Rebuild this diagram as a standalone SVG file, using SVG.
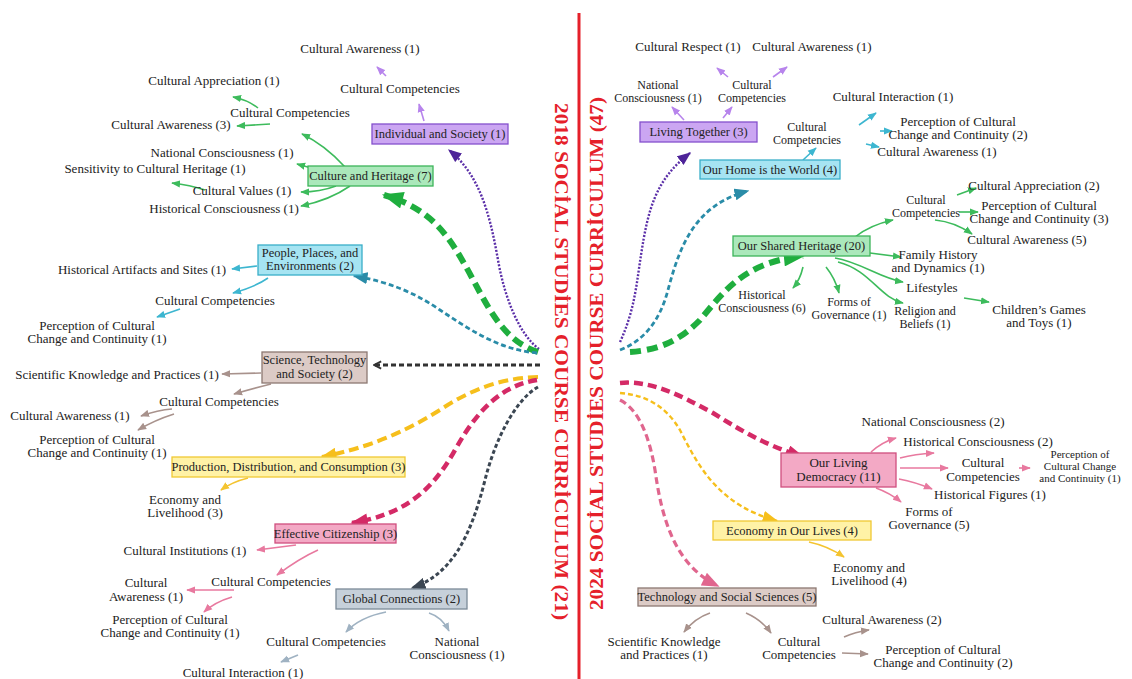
<svg xmlns="http://www.w3.org/2000/svg" width="1132" height="679" viewBox="0 0 1132 679">
<defs>
<style>
text{font-family:"Liberation Serif","DejaVu Serif",serif;font-size:13px;fill:#222;text-anchor:middle}
.bt{font-size:12.5px}
.sm{font-size:12px}
.xs{font-size:11px}
.title{font-size:19px;font-weight:bold;fill:#e5202a;text-anchor:start}
.a{fill:none;stroke-width:1.6}
.pu{stroke:#b784ec}.gr{stroke:#3dbb5c}.cy{stroke:#3db6d0}.br{stroke:#a8928c}.ye{stroke:#f4c430}.pk{stroke:#e8799f}.sl{stroke:#9fb2c2}
.d{fill:none}
.bx-pu{fill:#cba6f2;stroke:#8450cc;stroke-width:1.3}
.bx-gr{fill:#abe8bb;stroke:#3cb45a;stroke-width:1.3}
.bx-cy{fill:#a6e4f2;stroke:#3aaec8;stroke-width:1.3}
.bx-br{fill:#dccbc6;stroke:#8c7872;stroke-width:1.3}
.bx-ye{fill:#fff2a6;stroke:#f0c834;stroke-width:1.3}
.bx-pk{fill:#f3a9c5;stroke:#cf4f7e;stroke-width:1.3}
.bx-sl{fill:#c6d0da;stroke:#7c8a98;stroke-width:1.3}
</style>
<marker id="mpu" viewBox="0 0 10 8" refX="9" refY="4" markerWidth="9" markerHeight="8" markerUnits="userSpaceOnUse" orient="auto"><path d="M0,0L10,4L0,8z" fill="#b784ec"/></marker>
<marker id="mgr" viewBox="0 0 10 8" refX="9" refY="4" markerWidth="9" markerHeight="8" markerUnits="userSpaceOnUse" orient="auto"><path d="M0,0L10,4L0,8z" fill="#3dbb5c"/></marker>
<marker id="mcy" viewBox="0 0 10 8" refX="9" refY="4" markerWidth="9" markerHeight="8" markerUnits="userSpaceOnUse" orient="auto"><path d="M0,0L10,4L0,8z" fill="#3db6d0"/></marker>
<marker id="mbr" viewBox="0 0 10 8" refX="9" refY="4" markerWidth="9" markerHeight="8" markerUnits="userSpaceOnUse" orient="auto"><path d="M0,0L10,4L0,8z" fill="#a8928c"/></marker>
<marker id="mye" viewBox="0 0 10 8" refX="9" refY="4" markerWidth="9" markerHeight="8" markerUnits="userSpaceOnUse" orient="auto"><path d="M0,0L10,4L0,8z" fill="#f4c430"/></marker>
<marker id="mpk" viewBox="0 0 10 8" refX="9" refY="4" markerWidth="9" markerHeight="8" markerUnits="userSpaceOnUse" orient="auto"><path d="M0,0L10,4L0,8z" fill="#e8799f"/></marker>
<marker id="msl" viewBox="0 0 10 8" refX="9" refY="4" markerWidth="9" markerHeight="8" markerUnits="userSpaceOnUse" orient="auto"><path d="M0,0L10,4L0,8z" fill="#9fb2c2"/></marker>
<marker id="Mpu" viewBox="0 0 10 8" refX="9" refY="4" markerWidth="14" markerHeight="11" markerUnits="userSpaceOnUse" orient="auto"><path d="M0,0L10,4L0,8z" fill="#4e2499"/></marker>
<marker id="Mgr" viewBox="0 0 10 8" refX="9" refY="4" markerWidth="22" markerHeight="17" markerUnits="userSpaceOnUse" orient="auto"><path d="M0,0L10,4L0,8z" fill="#1fae3e"/></marker>
<marker id="Mcy" viewBox="0 0 10 8" refX="9" refY="4" markerWidth="15" markerHeight="12" markerUnits="userSpaceOnUse" orient="auto"><path d="M0,0L10,4L0,8z" fill="#2a8ca8"/></marker>
<marker id="Mk" viewBox="0 0 10 10" refX="9" refY="5" markerWidth="9" markerHeight="10" markerUnits="userSpaceOnUse" orient="auto"><path d="M1,1L9,5L1,9" fill="none" stroke="#333" stroke-width="2"/></marker>
<marker id="Mye" viewBox="0 0 10 8" refX="9" refY="4" markerWidth="16" markerHeight="13" markerUnits="userSpaceOnUse" orient="auto"><path d="M0,0L10,4L0,8z" fill="#f6bf1c"/></marker>
<marker id="Mpk" viewBox="0 0 10 8" refX="9" refY="4" markerWidth="18" markerHeight="14" markerUnits="userSpaceOnUse" orient="auto"><path d="M0,0L10,4L0,8z" fill="#d42a66"/></marker>
<marker id="Msl" viewBox="0 0 10 8" refX="9" refY="4" markerWidth="15" markerHeight="12" markerUnits="userSpaceOnUse" orient="auto"><path d="M0,0L10,4L0,8z" fill="#3b4652"/></marker>
<marker id="Mlp" viewBox="0 0 10 8" refX="9" refY="4" markerWidth="18" markerHeight="14" markerUnits="userSpaceOnUse" orient="auto"><path d="M0,0L10,4L0,8z" fill="#e0668e"/></marker>
</defs>
<rect width="1132" height="679" fill="#fff"/>

<g id="divider">
<line x1="579" y1="13" x2="579" y2="679" stroke="#e5202a" stroke-width="3"/>
<text class="title" transform="translate(555,103) rotate(90)" textLength="517" lengthAdjust="spacingAndGlyphs">2018 SOCİAL STUDİES COURSE CURRİCULUM (21)</text>
<text class="title" transform="translate(603,610) rotate(-90)" textLength="513" lengthAdjust="spacingAndGlyphs">2024 SOCİAL STUDİES COURSE CURRİCULUM (47)</text>
</g>

<g id="connectors">
<path class="d" d="M539,349 C520,335 505,300 498,260 C490,215 480,175 449,150" stroke="#5b2fa8" stroke-width="2.4" stroke-dasharray="2 1.6" marker-end="url(#Mpu)"/>
<path class="d" d="M538,352 C500,340 485,300 465,265 C448,235 430,208 384,195" stroke="#1fae3e" stroke-width="6" stroke-dasharray="11 6" marker-end="url(#Mgr)"/>
<path class="d" d="M537,353 C500,350 470,330 440,310 C415,293 390,282 354,276" stroke="#2a8ca8" stroke-width="2.8" stroke-dasharray="5 3" marker-end="url(#Mcy)"/>
<path class="d" d="M540,365 L374,365" stroke="#333" stroke-width="3" stroke-dasharray="5 3" marker-end="url(#Mk)"/>
<path class="d" d="M538,377 C500,378 470,390 440,410 C400,435 365,448 322,457" stroke="#f6bf1c" stroke-width="4" stroke-dasharray="10 5" marker-end="url(#Mye)"/>
<path class="d" d="M537,380 C505,385 480,405 455,450 C430,495 400,515 352,523" stroke="#d42a66" stroke-width="4.5" stroke-dasharray="9 5" marker-end="url(#Mpk)"/>
<path class="d" d="M538,387 C515,400 495,440 485,480 C470,540 450,575 412,588" stroke="#3b4652" stroke-width="3" stroke-dasharray="4 2.5" marker-end="url(#Msl)"/>
<path class="d" d="M620,342 C635,310 637,280 641,255 C648,210 655,180 690,153" stroke="#5b2fa8" stroke-width="2.4" stroke-dasharray="2 1.6" marker-end="url(#Mpu)"/>
<path class="d" d="M620,350 C645,340 660,320 668,290 C680,245 695,205 748,191" stroke="#2a8ca8" stroke-width="2.8" stroke-dasharray="5 3" marker-end="url(#Mcy)"/>
<path class="d" d="M630,352 C660,350 680,340 700,320 C725,290 745,262 803,256" stroke="#1fae3e" stroke-width="6" stroke-dasharray="11 6" marker-end="url(#Mgr)"/>
<path class="d" d="M620,383 C650,380 680,395 713,413 C740,430 765,445 803,457" stroke="#d42a66" stroke-width="4.5" stroke-dasharray="9 5" marker-end="url(#Mpk)"/>
<path class="d" d="M620,393 C645,395 665,405 680,430 C700,470 720,505 777,521" stroke="#f6bf1c" stroke-width="2.4" stroke-dasharray="5 3" marker-end="url(#Mye)"/>
<path class="d" d="M620,400 C640,410 650,440 655,470 C662,520 675,565 718,586" stroke="#e0668e" stroke-width="3.2" stroke-dasharray="7 4" marker-end="url(#Mlp)"/>

<path class="a pu" d="M386,76 L377,67" marker-end="url(#mpu)"/>
<path class="a pu" d="M424,121 L419,104" marker-end="url(#mpu)"/>
<path class="a gr" d="M258,108 Q248,100 233,97" marker-end="url(#mgr)"/>
<path class="a gr" d="M270,124 L237,126" marker-end="url(#mgr)"/>
<path class="a gr" d="M345,167 Q325,145 302,134" marker-end="url(#mgr)"/>
<path class="a gr" d="M322,171 L297,164" marker-end="url(#mgr)"/>
<path class="a gr" d="M205,190 Q190,185 172,183" marker-end="url(#mgr)"/>
<path class="a gr" d="M336,186 Q320,192 301,192" marker-end="url(#mgr)"/>
<path class="a gr" d="M350,186 Q330,200 301,206" marker-end="url(#mgr)"/>
<path class="a cy" d="M257,266 L232,269" marker-end="url(#mcy)"/>
<path class="a cy" d="M268,278 Q255,287 233,293" marker-end="url(#mcy)"/>
<path class="a cy" d="M180,309 L157,317" marker-end="url(#mcy)"/>
<path class="a br" d="M261,373 L222,374" marker-end="url(#mbr)"/>
<path class="a br" d="M271,384 Q255,388 234,394" marker-end="url(#mbr)"/>
<path class="a br" d="M172,409 Q158,410 141,416" marker-end="url(#mbr)"/>
<path class="a br" d="M174,414 Q155,420 138,430" marker-end="url(#mbr)"/>
<path class="a ye" d="M248,478 Q232,482 221,490" marker-end="url(#mye)"/>
<path class="a pk" d="M296,545 L257,550" marker-end="url(#mpk)"/>
<path class="a pk" d="M318,550 Q300,558 277,575" marker-end="url(#mpk)"/>
<path class="a pk" d="M234,590 L187,590" marker-end="url(#mpk)"/>
<path class="a pk" d="M232,597 Q215,602 204,612" marker-end="url(#mpk)"/>
<path class="a sl" d="M386,612 Q360,617 346,632" marker-end="url(#msl)"/>
<path class="a sl" d="M429,613 Q442,617 449,631" marker-end="url(#msl)"/>
<path class="a sl" d="M298,655 L281,662" marker-end="url(#msl)"/>

<path class="a pu" d="M684,120 L672,107" marker-end="url(#mpu)"/>
<path class="a pu" d="M723,118 L732,107" marker-end="url(#mpu)"/>
<path class="a pu" d="M728,77 L717,68" marker-end="url(#mpu)"/>
<path class="a pu" d="M773,77 L787,67" marker-end="url(#mpu)"/>
<path class="a cy" d="M803,160 L816,148" marker-end="url(#mcy)"/>
<path class="a cy" d="M859,125 L876,113" marker-end="url(#mcy)"/>
<path class="a cy" d="M880,131 L892,131" marker-end="url(#mcy)"/>
<path class="a cy" d="M866,144 L879,147" marker-end="url(#mcy)"/>
<path class="a gr" d="M957,195 L976,188" marker-end="url(#mgr)"/>
<path class="a gr" d="M959,212 L978,212" marker-end="url(#mgr)"/>
<path class="a gr" d="M935,220 Q955,222 972,234" marker-end="url(#mgr)"/>
<path class="a gr" d="M855,237 Q870,225 893,220" marker-end="url(#mgr)"/>
<path class="a gr" d="M870,253 L901,257" marker-end="url(#mgr)"/>
<path class="a gr" d="M835,258 C860,262 880,278 903,282" marker-end="url(#mgr)"/>
<path class="a gr" d="M838,262 C870,270 880,298 903,303" marker-end="url(#mgr)"/>
<path class="a gr" d="M964,298 L989,302" marker-end="url(#mgr)"/>
<path class="a gr" d="M803,267 Q800,280 793,288" marker-end="url(#mgr)"/>
<path class="a gr" d="M826,267 Q835,278 839,293" marker-end="url(#mgr)"/>
<path class="a pk" d="M871,452 Q882,442 896,438" marker-end="url(#mpk)"/>
<path class="a pk" d="M900,458 Q915,454 934,453" marker-end="url(#mpk)"/>
<path class="a pk" d="M900,468 L948,468" marker-end="url(#mpk)"/>
<path class="a pk" d="M1019,468 L1030,468" marker-end="url(#mpk)"/>
<path class="a pk" d="M899,479 Q915,482 932,489" marker-end="url(#mpk)"/>
<path class="a pk" d="M876,488 Q890,493 901,502" marker-end="url(#mpk)"/>
<path class="a ye" d="M809,542 Q828,546 844,557" marker-end="url(#mye)"/>
<path class="a br" d="M710,613 Q695,618 684,632" marker-end="url(#mbr)"/>
<path class="a br" d="M746,613 Q762,620 771,633" marker-end="url(#mbr)"/>
<path class="a br" d="M844,637 Q855,632 869,630" marker-end="url(#mbr)"/>
<path class="a br" d="M842,653 L868,654" marker-end="url(#mbr)"/>
</g>

<g id="individual-society">
<rect class="bx-pu" x="372" y="124" width="136" height="20"/>
<text class="bt" x="440" y="138">Individual and Society (1)</text>
<text x="400" y="93">Cultural Competencies</text>
<text x="360" y="53">Cultural Awareness (1)</text>
</g>
<g id="culture-heritage">
<rect class="bx-gr" x="308" y="166" width="125" height="20"/>
<text class="bt" x="370.5" y="180">Culture and Heritage (7)</text>
<text x="214" y="85">Cultural Appreciation (1)</text>
<text x="290" y="117">Cultural Competencies</text>
<text x="171" y="129">Cultural Awareness (3)</text>
<text x="222" y="157">National Consciousness (1)</text>
<text x="155" y="173">Sensitivity to Cultural Heritage (1)</text>
<text x="242" y="195">Cultural Values (1)</text>
<text x="224" y="213">Historical Consciousness (1)</text>
</g>
<g id="people-places">
<rect class="bx-cy" x="258" y="245" width="104" height="30"/>
<text class="bt" x="310" y="257">People, Places, and</text>
<text class="bt" x="310" y="270">Environments (2)</text>
<text x="142" y="274">Historical Artifacts and Sites (1)</text>
<text x="215" y="305">Cultural Competencies</text>
<text x="97" y="330">Perception of Cultural</text>
<text x="97" y="343">Change and Continuity (1)</text>
</g>
<g id="science-technology">
<rect class="bx-br" x="262" y="352" width="105" height="31"/>
<text class="bt" x="314.5" y="364">Science, Technology</text>
<text class="bt" x="314.5" y="378">and Society (2)</text>
<text x="117" y="379">Scientific Knowledge and Practices (1)</text>
<text x="219" y="406">Cultural Competencies</text>
<text x="70" y="420">Cultural Awareness (1)</text>
<text x="97" y="444">Perception of Cultural</text>
<text x="97" y="457">Change and Continuity (1)</text>
</g>
<g id="production">
<rect class="bx-ye" x="172" y="457" width="233" height="20"/>
<text class="bt" x="288.5" y="471">Production, Distribution, and Consumption (3)</text>
<text x="185" y="504">Economy and</text>
<text x="185" y="517">Livelihood (3)</text>
</g>
<g id="effective-citizenship">
<rect class="bx-pk" x="275" y="524" width="121" height="19"/>
<text class="bt" x="335.5" y="538">Effective Citizenship (3)</text>
<text x="185" y="555">Cultural Institutions (1)</text>
<text x="271" y="586">Cultural Competencies</text>
<text x="146" y="587">Cultural</text>
<text x="146" y="601">Awareness (1)</text>
<text x="170" y="624">Perception of Cultural</text>
<text x="170" y="637">Change and Continuity (1)</text>
</g>
<g id="global-connections">
<rect class="bx-sl" x="336" y="589" width="131" height="20"/>
<text class="bt" x="401.5" y="603">Global Connections (2)</text>
<text x="326" y="646">Cultural Competencies</text>
<text x="457" y="646">National</text>
<text x="457" y="659">Consciousness (1)</text>
<text x="243" y="677">Cultural Interaction (1)</text>
</g>

<g id="living-together">
<rect class="bx-pu" x="640" y="122" width="117" height="20"/>
<text class="bt" x="698.5" y="136">Living Together (3)</text>
<text x="688" y="51">Cultural Respect (1)</text>
<text x="812" y="51">Cultural Awareness (1)</text>
<text class="sm" x="658" y="89">National</text>
<text class="sm" x="658" y="102">Consciousness (1)</text>
<text class="sm" x="752" y="89">Cultural</text>
<text class="sm" x="752" y="102">Competencies</text>
</g>
<g id="our-home">
<rect class="bx-cy" x="700" y="160" width="140" height="19"/>
<text class="bt" x="770" y="174">Our Home is the World (4)</text>
<text class="sm" x="807" y="131">Cultural</text>
<text class="sm" x="807" y="144">Competencies</text>
<text x="893" y="101">Cultural Interaction (1)</text>
<text x="958" y="126">Perception of Cultural</text>
<text x="958" y="139">Change and Continuity (2)</text>
<text x="937" y="156">Cultural Awareness (1)</text>
</g>
<g id="shared-heritage">
<rect class="bx-gr" x="733" y="236" width="137" height="20"/>
<text class="bt" x="801.5" y="250">Our Shared Heritage (20)</text>
<text class="sm" x="926" y="204">Cultural</text>
<text class="sm" x="926" y="217">Competencies</text>
<text x="1034" y="190">Cultural Appreciation (2)</text>
<text x="1039" y="210">Perception of Cultural</text>
<text x="1039" y="223">Change and Continuity (3)</text>
<text x="1027" y="244">Cultural Awareness (5)</text>
<text x="938" y="259">Family History</text>
<text x="938" y="272">and Dynamics (1)</text>
<text x="932" y="292">Lifestyles</text>
<text class="sm" x="925" y="315">Religion and</text>
<text class="sm" x="925" y="328">Beliefs (1)</text>
<text x="1039" y="314">Children’s Games</text>
<text x="1039" y="327">and Toys (1)</text>
<text class="sm" x="762" y="299">Historical</text>
<text class="sm" x="762" y="312">Consciousness (6)</text>
<text class="sm" x="849" y="306">Forms of</text>
<text class="sm" x="849" y="319">Governance (1)</text>
</g>
<g id="living-democracy">
<rect class="bx-pk" x="781" y="453" width="115" height="34"/>
<text x="838.5" y="467">Our Living</text>
<text x="838.5" y="481">Democracy (11)</text>
<text x="933" y="426">National Consciousness (2)</text>
<text x="978" y="446">Historical Consciousness (2)</text>
<text x="983" y="467">Cultural</text>
<text x="983" y="481">Competencies</text>
<text class="xs" x="1080" y="458">Perception of</text>
<text class="xs" x="1080" y="470">Cultural Change</text>
<text class="xs" x="1080" y="482">and Continuity (1)</text>
<text x="990" y="499">Historical Figures (1)</text>
<text x="929" y="516">Forms of</text>
<text x="929" y="529">Governance (5)</text>
</g>
<g id="economy-lives">
<rect class="bx-ye" x="713" y="521" width="158" height="19"/>
<text class="bt" x="792" y="535">Economy in Our Lives (4)</text>
<text x="869" y="572">Economy and</text>
<text x="869" y="585">Livelihood (4)</text>
</g>
<g id="technology-social">
<rect class="bx-br" x="638" y="588" width="178" height="18"/>
<text class="bt" x="727" y="601">Technology and Social Sciences (5)</text>
<text x="664" y="646">Scientific Knowledge</text>
<text x="664" y="659">and Practices (1)</text>
<text x="799" y="646">Cultural</text>
<text x="799" y="659">Competencies</text>
<text x="882" y="624">Cultural Awareness (2)</text>
<text x="943" y="654">Perception of Cultural</text>
<text x="943" y="667">Change and Continuity (2)</text>
</g>
</svg>
